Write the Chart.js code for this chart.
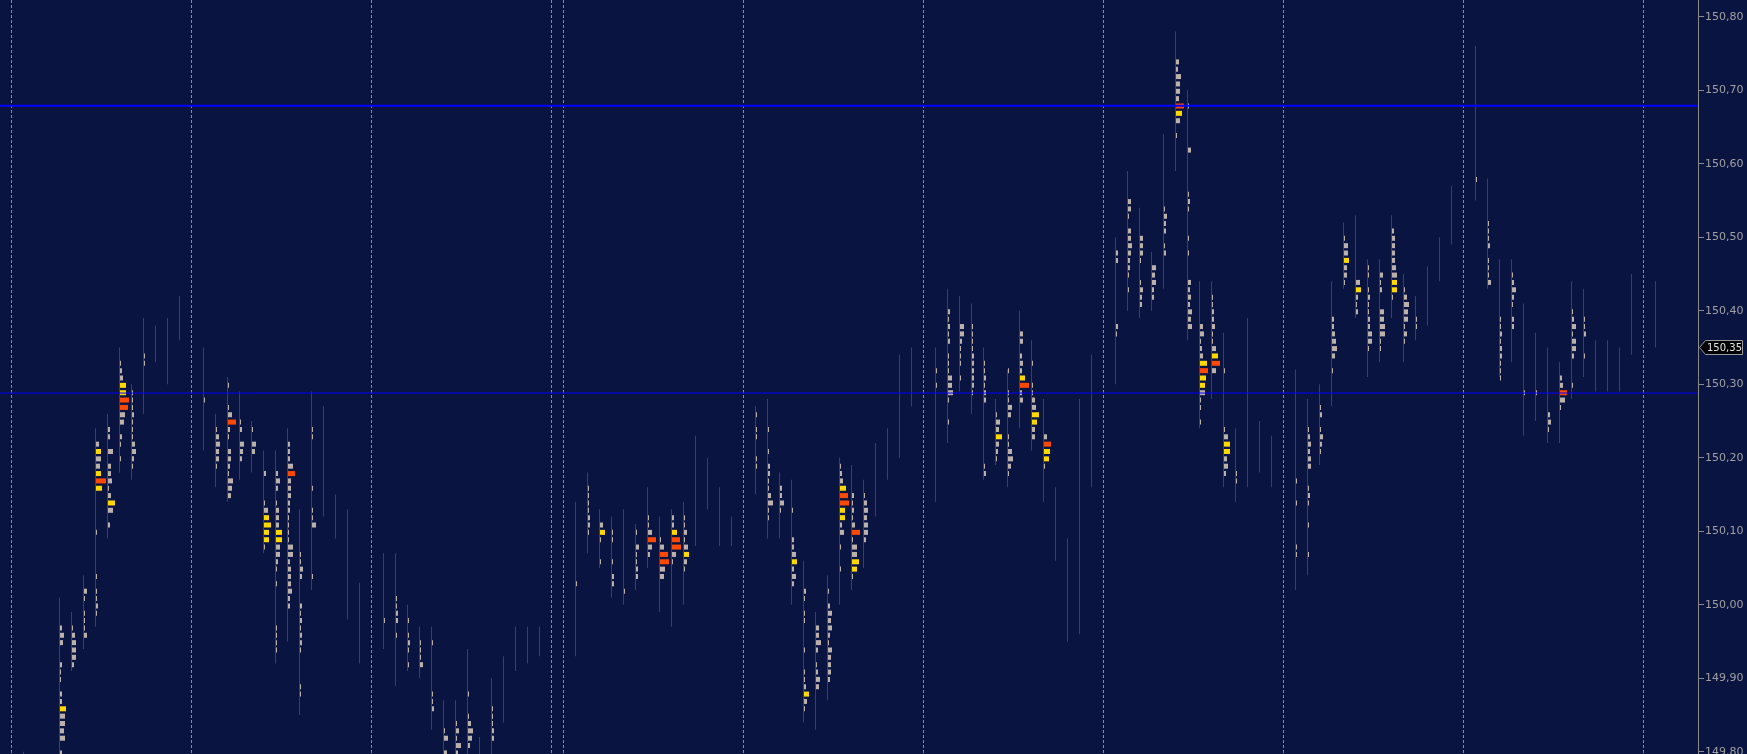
<!DOCTYPE html>
<html>
<head>
<meta charset="utf-8">
<title>Footprint</title>
<style>
  html, body { margin: 0; padding: 0; background: #0a1440; overflow: hidden; }
  #wrap { width: 1747px; height: 754px; }
</style>
</head>
<body>
<div id="wrap"><canvas id="footprint" width="1747" height="754"></canvas></div>
<script src="https://cdn.jsdelivr.net/npm/chart.js@4.4.1/dist/chart.umd.min.js"></script>
<script>
// one entry per bar slot, null = empty slot
const highs = [
  null, 149.80, null, null, 150.01, 149.99, 150.04, 150.24, 150.26, 150.35,
  150.30, 150.39, 150.38, 150.39, 150.42, null, 150.35, 150.26, 150.31, 150.29,
  150.25, 150.21, 150.21, 150.24, 150.13, 150.29, 150.27, 150.15, 150.13, 150.03,
  null, 150.07, 150.07, 150.00, 149.97, 149.97, 149.87, 149.87, 149.94, 149.82,
  149.90, 149.93, 149.97, 149.97, 149.97, null, null, 150.14, 150.18, 150.13,
  150.12, 150.13, 150.11, 150.16, 150.12, 150.13, 150.14, 150.23, 150.20, 150.16,
  150.12, null, 150.27, 150.28, 150.18, 150.17, 150.06, 149.99, 150.04, 150.20,
  150.19, 150.17, 150.22, 150.24, 150.34, 150.35, null, 150.35, 150.43, 150.42,
  150.41, 150.35, 150.28, 150.32, 150.40, 150.36, 150.28, 150.16, 150.09, 150.28,
  150.34, null, 150.50, 150.59, 150.54, 150.48, 150.64, 150.78, 150.70, 150.44,
  150.44, 150.37, 150.24, 150.39, 150.25, 150.23, null, 150.32, 150.28, 150.30,
  150.44, 150.52, 150.53, 150.47, 150.47, 150.53, 150.45, 150.42, 150.46, 150.50,
  150.57, null, 150.76, 150.58, 150.47, 150.47, 150.41, 150.37, 150.35, 150.33,
  150.44, 150.43, 150.36, 150.36, 150.35, 150.45, null, 150.44
];
const lows = [
  null, 149.76, null, null, 149.78, 149.91, 149.94, 149.97, 150.09, 150.18,
  150.17, 150.26, 150.33, 150.30, 150.36, null, 150.21, 150.16, 150.14, 150.17,
  150.18, 150.07, 149.92, 149.95, 149.85, 150.02, 150.12, 150.09, 149.98, 149.92,
  null, 149.94, 149.89, 149.91, 149.90, 149.83, 149.78, 149.78, 149.78, 149.78,
  149.78, 149.84, 149.91, 149.92, 149.93, null, null, 149.93, 150.07, 150.05,
  150.01, 150.00, 150.02, 150.05, 149.99, 149.97, 150.00, 150.08, 150.13, 150.08,
  150.08, null, 150.15, 150.09, 150.09, 150.00, 149.84, 149.83, 149.87, 150.00,
  150.02, 150.05, 150.12, 150.17, 150.20, 150.27, null, 150.14, 150.22, 150.29,
  150.26, 150.17, 150.19, 150.16, 150.24, 150.21, 150.14, 150.06, 149.95, 149.96,
  150.16, null, 150.30, 150.40, 150.39, 150.40, 150.43, 150.59, 150.36, 150.24,
  150.28, 150.16, 150.14, 150.16, 150.18, 150.16, null, 150.02, 150.04, 150.19,
  150.27, 150.43, 150.39, 150.31, 150.33, 150.39, 150.33, 150.36, 150.38, 150.44,
  150.49, null, 150.55, 150.43, 150.31, 150.33, 150.23, 150.25, 150.22, 150.22,
  150.28, 150.31, 150.29, 150.29, 150.29, 150.34, null, 150.35
];

// top price of each bar's cluster column
const cellTops = [
  null, null, null, null, 149.97, 149.97, 150.02, 150.22, 150.24, 150.33,
  150.29, 150.34, null, null, null, null, 150.28, 150.24, 150.30, 150.25,
  150.24, 150.18, 150.18, 150.22, 150.07, 150.24, null, null, null, null,
  null, 149.98, 150.01, 149.98, 149.95, 149.95, 149.83, 149.84, 149.88, null,
  149.86, null, null, null, null, null, null, 150.03, 150.16, 150.11,
  150.10, 150.02, 150.10, 150.12, 150.09, 150.12, 150.12, null, null, null,
  null, null, 150.26, 150.24, 150.16, 150.13, 150.02, 149.97, 150.02, 150.19,
  150.15, 150.15, null, null, null, null, null, 150.32, 150.40, 150.38,
  150.38, 150.33, 150.26, 150.32, 150.37, 150.33, 150.23, null, null, null,
  null, null, 150.48, 150.55, 150.50, 150.46, 150.54, 150.74, 150.68, 150.38,
  150.42, 150.32, 150.18, null, null, null, null, 150.17, 150.24, 150.27,
  150.39, 150.50, 150.44, 150.46, 150.45, 150.51, 150.43, 150.39, null, null,
  null, null, 150.58, 150.52, 150.39, 150.45, 150.29, 150.29, 150.26, 150.31,
  150.40, 150.39, null, null, null, null, null, null
];
// one char per 0.01 going down: ' ' none, 1-9 plain volume, a-j high volume, A-J max volume
const cellCodes = [
  '', '', '', '', '243  211 22f5545 2', '134442', '31 1113', '3e54eJf     1     1 1121', '22 5 33413g5 2', '123ffIH54 21 1',
  '11121113421', '11', '', '', '', '', '1', '134331', '1  14H21 3321543', '12 432',
  '1 43', '2   14egee1', '242 1333ff4421 1     1111', '2225G333221111552333422', '1132   2121221    11', '11      1  114      1', '', '', '', '',
  '', '1', '1122 1', '1 121 1', '1113', '1      112', '14 3', '13152', '1  13542', '',
  '11122', '', '', '', '', '', '', '1', '1111221', '3e1  1',
  '11  1 22', '1', '1 31122', '114H42', '14HI54', '22eHI41', '11314e31', '', '', '',
  '', '', '1 11  11', '1  1 22113511', '2241', '1   224e242', '21 11   1  112e31', '3352 1243', '1 24342143332', '123fHIee24 1  1',
  '21213H155ge1', '1343442', '', '', '', '', '', '1 1', '21212 1114451  1', '442111 1',
  '1111222221', '112122        12', '143f321', '1  1143  114531', '33 232eI23', '1  1134ge33', '3Gfe1', '', '', '',
  '', '', '22        21', '331 3343221 1', '3331  1322', '43422', '1322 12', '325443Hf4 1', '1     3     121   1 1   3232434', '34123gHfe511 1',
  '11223114fH4', '1       14ff342', '11', '', '', '', '', '1  1     11', '123233  121  1   1', '12 1321',
  '223453 1', '144e331', '4e212', '11 121122441', '312  445511', '2333345ee1', '13544131', '11', '', '',
  '', '', '1', '1112 1113', '112122111', '12421 22', '1', '1', '231', '23G51',
  '1241442   1', '112  1', '', '', '', '', '', ''
];

const sessionBreaks = [0, 15, 30, 45, 46, 61, 76, 91, 106, 121, 136];
const priceTicks = [149.80, 149.90, 150.00, 150.10, 150.20, 150.30, 150.40, 150.50, 150.60, 150.70, 150.80];
const levelLines = [150.679, 150.288];
const lastPrice = 150.35;

// ---- layout / style ----
const SLOT_PX = 12;
const X_MIN = -11.5 / SLOT_PX;
const X_MAX = (1698 - 11.5) / SLOT_PX;
const Y_MIN = 149.797;
const Y_MAX = 150.8227;
const CELL_DROP = 0.0015;
const COL_BAR = '#2f4852';
const COL_AXIS = '#8a8a8a';
const FONT = '"DejaVu Sans", Verdana, sans-serif';
const CELL_COLORS = { g: '#bcb0ab', y: '#ffd800', r: '#ff4800' };
const fmt = v => v.toFixed(2).replace('.', ',');

const rangeBars = [];
highs.forEach((h, k) => {
  if (h != null) rangeBars.push({ x: k, y: [lows[k], h] });
});

const cells = [];
cellCodes.forEach((code, k) => {
  if (!code) return;
  [...code].forEach((ch, j) => {
    if (ch === ' ') return;
    let kind = 'g', w;
    if (ch >= '1' && ch <= '9') w = +ch;
    else if (ch >= 'a' && ch <= 'j') { kind = 'y'; w = ch.charCodeAt(0) - 96; }
    else { kind = 'r'; w = ch.charCodeAt(0) - 64; }
    const price = Math.round((cellTops[k] - j * 0.01) * 100) / 100;
    const x0 = k + 0.5 / SLOT_PX;
    cells.push({ x: [x0, x0 + w / SLOT_PX], y: price - CELL_DROP, kind });
  });
});

const levelSets = levelLines.map((lvl, i) => ({
  type: 'line',
  data: [{ x: X_MIN, y: lvl }, { x: X_MAX, y: lvl }],
  borderColor: '#0000ff',
  borderWidth: i === 0 ? 2 : 1,
  pointRadius: 0,
  order: 0
}));

// last-price tag on the price axis
const priceTag = {
  id: 'priceTag',
  afterDraw(chart) {
    const ys = chart.scales.y;
    const ctx = chart.ctx;
    const py = Math.round(ys.getPixelForValue(lastPrice)) + 0.5;
    const tip = ys.left + 1.5, x1 = tip + 6, x2 = ys.right - 4.5, h = 7;
    ctx.save();
    ctx.beginPath();
    ctx.moveTo(tip, py);
    ctx.lineTo(x1, py - h);
    ctx.lineTo(x2, py - h);
    ctx.lineTo(x2, py + h);
    ctx.lineTo(x1, py + h);
    ctx.closePath();
    ctx.fillStyle = '#000';
    ctx.fill();
    ctx.strokeStyle = '#9a9a9a';
    ctx.lineWidth = 1;
    ctx.stroke();
    ctx.fillStyle = '#e4e4e4';
    ctx.font = '10px ' + FONT;
    ctx.textBaseline = 'middle';
    ctx.fillText(fmt(lastPrice), x1 + 1.5, py + 0.5);
    ctx.restore();
  }
};

new Chart(document.getElementById('footprint'), {
  type: 'bar',
  data: {
    datasets: [
      ...levelSets,
      {
        data: cells,
        indexAxis: 'y',
        grouped: false,
        barThickness: 5,
        inflateAmount: 0,
        borderWidth: 0,
        backgroundColor: c => CELL_COLORS[c.raw ? c.raw.kind : 'g'],
        order: 1
      },
      {
        data: rangeBars,
        grouped: false,
        barThickness: 1,
        inflateAmount: 0,
        borderWidth: 0,
        backgroundColor: COL_BAR,
        order: 2
      }
    ]
  },
  options: {
    responsive: false,
    animation: false,
    events: [],
    layout: { padding: 0 },
    plugins: { legend: { display: false }, tooltip: { enabled: false } },
    scales: {
      x: {
        type: 'linear',
        min: X_MIN,
        max: X_MAX,
        offset: false,
        position: 'bottom',
        afterBuildTicks: s => { s.ticks = sessionBreaks.map(v => ({ value: v })); },
        afterFit: s => { s.height = 0; s.paddingLeft = 0; s.paddingRight = 0; },
        ticks: { display: false },
        grid: { offset: false, color: '#8a8c9c', lineWidth: 1, drawTicks: false },
        border: { display: false, dash: [3, 2] }
      },
      y: {
        type: 'linear',
        position: 'right',
        min: Y_MIN,
        max: Y_MAX,
        offset: false,
        afterBuildTicks: s => { s.ticks = priceTicks.map(v => ({ value: v })); },
        afterFit: s => { s.width = 49; s.paddingTop = 0; s.paddingBottom = 0; },
        grid: { offset: false, drawOnChartArea: false, drawTicks: true, tickLength: 6, color: COL_AXIS },
        border: { display: true, color: COL_AXIS, width: 1 },
        ticks: {
          autoSkip: false,
          padding: 1,
          color: '#a0a0a0',
          font: { family: FONT, size: 11 },
          callback: v => fmt(v)
        }
      }
    }
  },
  plugins: [priceTag]
});
</script>
</body>
</html>
